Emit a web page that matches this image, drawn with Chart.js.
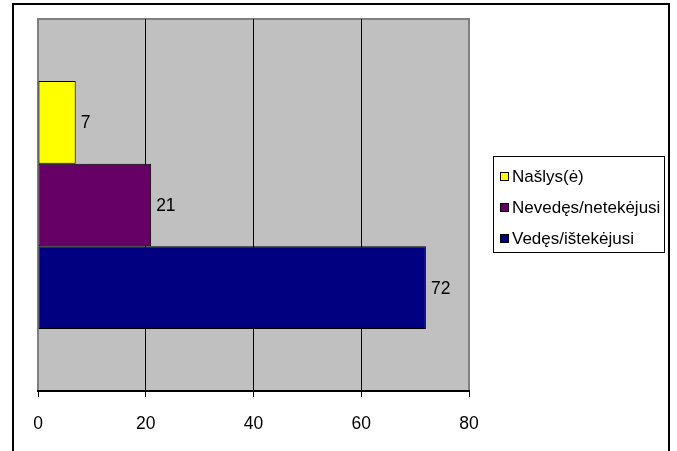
<!DOCTYPE html>
<html>
<head>
<meta charset="utf-8">
<script src="https://cdn.jsdelivr.net/npm/chart.js@4/dist/chart.umd.min.js"></script>
<style>
  html, body { margin: 0; padding: 0; background: #fff; }
  #wrap { width: 677px; height: 451px; position: relative; }
</style>
</head>
<body>
<div id="wrap"><canvas id="c" width="677" height="451"></canvas></div>
<script>
// Šeimyninė padėtis, %
const categories = [''];
const seriesNames = ['Našlys(ė)', 'Nevedęs/netekėjusi', 'Vedęs/ištekėjusi'];
const seriesValues = [[7], [21], [72]];
const seriesColors = ['#FFFF00', '#660066', '#000080'];
const xTicks = [0, 20, 40, 60, 80];

const FONT = 'Liberation Sans, Arial, sans-serif';
const FONT_SIZE = 17.5;
const LEGEND_FONT_SIZE = 17;

const datasets = seriesNames.map((name, i) => ({
  label: name,
  data: seriesValues[i],
  backgroundColor: seriesColors[i],
  borderColor: '#000000',
  borderWidth: 1,
  borderSkipped: false,
  categoryPercentage: 0.667,
  barPercentage: 1.0
}));

// Frame, grey plot area and border
const backdrop = {
  id: 'backdrop',
  beforeDraw(chart) {
    const { ctx, chartArea: a } = chart;
    ctx.save();
    ctx.fillStyle = '#ffffff';
    ctx.fillRect(0, 0, chart.width, chart.height);
    ctx.lineWidth = 2;
    ctx.strokeStyle = '#000000';
    ctx.strokeRect(13, 4, 656, 470);
    ctx.fillStyle = '#C0C0C0';
    ctx.fillRect(a.left, a.top, a.right - a.left, a.bottom - a.top);
    ctx.lineWidth = 2;
    ctx.strokeStyle = '#808080';
    ctx.strokeRect(a.left, a.top, a.right - a.left, a.bottom - a.top);
    ctx.restore();
  }
};

// Value labels at the end of each bar
const valueLabels = {
  id: 'valueLabels',
  afterDatasetsDraw(chart) {
    const { ctx } = chart;
    ctx.save();
    ctx.font = FONT_SIZE + 'px ' + FONT;
    ctx.fillStyle = '#000000';
    ctx.textAlign = 'left';
    ctx.textBaseline = 'middle';
    chart.data.datasets.forEach((ds, i) => {
      chart.getDatasetMeta(i).data.forEach((bar, j) => {
        ctx.fillText(String(ds.data[j]), bar.x + 5, bar.y + 1);
      });
    });
    ctx.restore();
  }
};

// Boxed legend on the right
const boxLegend = {
  id: 'boxLegend',
  afterDraw(chart) {
    const { ctx } = chart;
    const box = { x: 493.5, y: 156.5, w: 171, h: 96 };
    const rows = [177, 208, 239];
    ctx.save();
    ctx.lineWidth = 1;
    ctx.strokeStyle = '#000000';
    ctx.strokeRect(box.x, box.y, box.w, box.h);
    ctx.font = LEGEND_FONT_SIZE + 'px ' + FONT;
    ctx.textAlign = 'left';
    ctx.textBaseline = 'middle';
    chart.data.datasets.forEach((ds, i) => {
      const y = rows[i];
      ctx.fillStyle = ds.backgroundColor;
      ctx.fillRect(500.5, y - 4.5, 8, 8);
      ctx.strokeStyle = '#000000';
      ctx.strokeRect(500.5, y - 4.5, 8, 8);
      ctx.fillStyle = '#000000';
      ctx.fillText(ds.label, 512, y + 0.5);
    });
    ctx.restore();
  }
};

new Chart(document.getElementById('c'), {
  type: 'bar',
  data: { labels: categories, datasets },
  plugins: [backdrop, valueLabels, boxLegend],
  options: {
    indexAxis: 'y',
    responsive: false,
    animation: false,
    devicePixelRatio: 1,
    layout: { padding: { left: 38, right: 208, top: 19, bottom: 0 } },
    plugins: { legend: { display: false }, tooltip: { enabled: false } },
    scales: {
      x: {
        type: 'linear',
        position: 'bottom',
        min: xTicks[0],
        max: xTicks[xTicks.length - 1],
        afterBuildTicks(scale) { scale.ticks = xTicks.map(v => ({ value: v })); },
        afterFit(scale) { scale.height = 60; },
        ticks: {
          color: '#000000',
          font: { family: FONT, size: FONT_SIZE },
          padding: 17,
          maxRotation: 0
        },
        grid: {
          color: (c) => (c.tick && (c.tick.value === 0 || c.tick.value === 80)) ? 'rgba(0,0,0,0)' : '#000000',
          lineWidth: 1,
          drawTicks: true,
          tickLength: 6,
          tickColor: '#000000'
        },
        border: { display: true, color: '#000000', width: 2 }
      },
      y: {
        display: false
      }
    }
  }
});
</script>
</body>
</html>
